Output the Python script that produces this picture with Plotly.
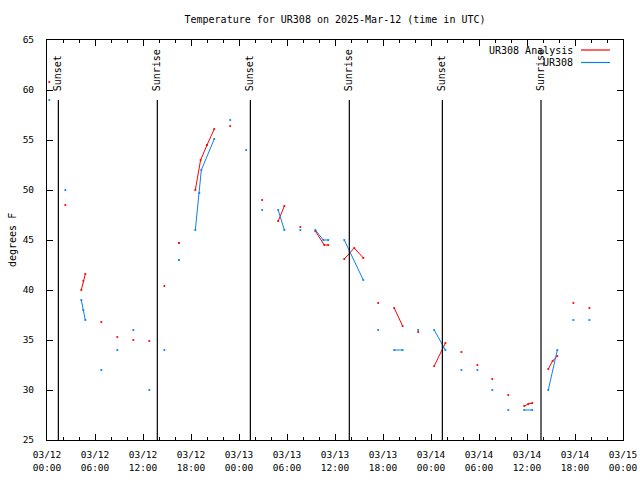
import plotly.graph_objects as go

# ---- data (hours since 2025-03-12 00:00 UTC; None = gap) ----
analysis_hours = [0.29, None, 2.29, None, 4.29, 4.54, 4.79, None, 6.79, None, 8.79, None,
                  10.79, None, 12.79, None, 14.67, None, 16.5, None,
                  18.54, 19.2, 20.0, 20.91, None, 22.9, None, 26.9, None,
                  28.9, 29.67, None, 31.67, None, 33.54, 34.66, 35.16, None,
                  37.16, 38.41, 39.54, None, 41.4, None, 43.4, 44.45, None, 46.4, None,
                  48.4, 49.8, None, 51.8, None, 53.8, None, 55.66, None, 57.66, None,
                  59.66, 60.16, 60.66, None, 62.66, 63.2, 63.79, None, 65.8, None, 67.8]
analysis_temp = [60.8, None, 48.5, None, 40.0, 40.9, 41.6, None, 36.8, None, 35.3, None,
                 35.0, None, 34.9, None, 40.4, None, 44.7, None,
                 50.0, 53.0, 54.5, 56.1, None, 56.4, None, 49.0, None,
                 46.9, 48.4, None, 46.3, None, 45.9, 44.5, 44.5, None,
                 43.1, 44.2, 43.2, None, 38.7, None, 38.2, 36.4, None, 35.8, None,
                 32.4, 34.7, None, 33.8, None, 32.5, None, 31.1, None, 29.5, None,
                 28.4, 28.6, 28.7, None, 32.1, 32.9, 33.4, None, 38.7, None, 38.2]

obs_hours = [0.29, None, 2.29, None, 4.29, 4.54, 4.79, None, 6.79, None, 8.79, None,
             10.79, None, 12.79, None, 14.67, None, 16.5, None,
             18.54, 19.04, 19.29, 20.91, None, 22.9, None, 24.9, None, 26.9, None,
             28.9, 29.67, None, 31.67, None, 33.54, 34.54, 35.16, None,
             37.16, 39.54, None, 41.4, None, 43.4, 44.45, None, 46.4, None,
             48.4, 49.8, None, 51.8, None, 53.8, None, 55.66, None, 57.66, None,
             59.66, 60.66, None, 62.66, 63.79, None, 65.8, None, 67.8]
obs_temp = [59, None, 50, None, 39, 38, 37, None, 32, None, 34, None,
            36, None, 30, None, 34, None, 43, None,
            46, 49.7, 52, 55.1, None, 57, None, 54, None, 48, None,
            48, 46, None, 46, None, 46, 45, 45, None,
            45, 41, None, 36, None, 34, 34, None, 36, None,
            36, 34, None, 32, None, 32, None, 30, None, 28, None,
            28, 28, None, 30, 34, None, 37, None, 37]

event_labels = ["Sunset", "Sunrise", "Sunset", "Sunrise", "Sunset", "Sunrise"]
event_hours = [1.42, 13.79, 25.42, 37.79, 49.42, 61.75]

tick_hours = [0, 6, 12, 18, 24, 30, 36, 42, 48, 54, 60, 66, 72]
tick_dates = ["03/12", "03/12", "03/12", "03/12", "03/13", "03/13", "03/13",
              "03/13", "03/14", "03/14", "03/14", "03/14", "03/15"]
tick_times = ["00:00", "06:00", "12:00", "18:00", "00:00", "06:00", "12:00",
              "18:00", "00:00", "06:00", "12:00", "18:00", "00:00"]
tick_text = [d + "<br>" + t for d, t in zip(tick_dates, tick_times)]

series_names = ["UR308 Analysis", "UR308"]
series_colors = ["#ff0000", "#0a80f0"]

FONT = "DejaVu Sans Mono"
W, H = 640, 480
PL, PR, PT, PB = 47, 623, 40, 440    # plot area in page pixels
L, T, R, B = PL, PT, W - PR, H - PB
PW, PH = PR - PL, PB - PT


def px_x(p):
    return (p - PL) / PW


def px_y(p):
    return (PB - p) / PH


fig = go.Figure()
for name, xs, ys, col in [(series_names[0], analysis_hours, analysis_temp, series_colors[0]),
                          (series_names[1], obs_hours, obs_temp, series_colors[1])]:
    fig.add_trace(go.Scatter(x=xs, y=ys, name=name, mode="lines+markers",
                             line=dict(color=col, width=1),
                             marker=dict(color=col, size=1.8, symbol="square",
                                         line=dict(width=0)),
                             connectgaps=False, showlegend=False))

shapes = []
annotations = []
for lab, h in zip(event_labels, event_hours):
    shapes.append(dict(type="line", xref="x", yref="paper", x0=h, x1=h, y0=0, y1=px_y(100),
                       line=dict(color="black", width=1.2)))
    annotations.append(dict(x=h, y=px_y(93), xref="x", yref="paper", text=lab,
                            textangle=-90, showarrow=False, xanchor="center", yanchor="bottom",
                            font=dict(family=FONT, size=10, color="black")))

# legend (gnuplot style: text left of sample)
for i, (name, col) in enumerate(zip(series_names, series_colors)):
    ypx = 50 + i * 12.5
    annotations.append(dict(x=px_x(575), y=px_y(ypx), xref="paper", yref="paper", text=name,
                            showarrow=False, xanchor="right", yanchor="middle",
                            font=dict(family=FONT, size=10, color="black")))
    shapes.append(dict(type="line", xref="paper", yref="paper", x0=px_x(581), x1=px_x(610),
                       y0=px_y(ypx), y1=px_y(ypx), line=dict(color=col, width=1.2)))

annotations.append(dict(x=px_x(12), y=0.5, xref="paper", yref="paper", text="degrees F",
                        textangle=-90, showarrow=False, xanchor="center", yanchor="middle",
                        font=dict(family=FONT, size=10, color="black")))

fig.update_layout(
    width=W, height=H, autosize=False,
    margin=dict(l=L, r=R, t=T, b=B, pad=0),
    paper_bgcolor="white", plot_bgcolor="white",
    font=dict(family=FONT, size=10, color="black"),
    title=dict(text="Temperature for UR308 on 2025-Mar-12 (time in UTC)",
               x=0.5, xref="paper", xanchor="center", y=1 - 19 / H, yanchor="middle",
               font=dict(family=FONT, size=10, color="black"), automargin=False),
    shapes=shapes, annotations=annotations,
    xaxis=dict(range=[0, 72], tickvals=tick_hours, ticktext=tick_text, automargin=False,
               showline=True, linecolor="black", linewidth=1, mirror="ticks",
               ticks="inside", ticklen=6, tickcolor="black", tickwidth=1,
               tickfont=dict(family=FONT, size=9.5),
               minor=dict(ticks="inside", dtick=2, tick0=0, ticklen=3, tickcolor="black"),
               showgrid=False, zeroline=False, ticklabelstandoff=6, fixedrange=True),
    yaxis=dict(range=[25, 65], tickvals=list(range(25, 66, 5)), automargin=False,
               showline=True, linecolor="black", linewidth=1, mirror="ticks",
               ticks="inside", ticklen=6, tickcolor="black", tickwidth=1,
               tickfont=dict(family=FONT, size=9.5),
               showgrid=False, zeroline=False, ticklabelstandoff=10, fixedrange=True),
)

fig.write_html("out.html", config={"displayModeBar": False},
               post_script="document.body.style.margin='0';"
                           "document.body.style.overflow='hidden';")
